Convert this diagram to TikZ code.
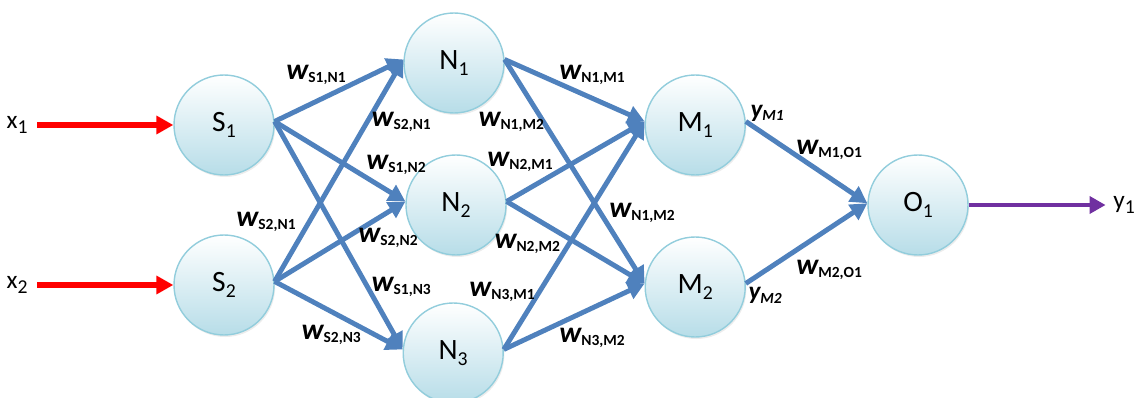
\documentclass[tikz,border=0pt]{standalone}
\usepackage{fontspec}
\setmainfont{Carlito}
\usetikzlibrary{arrows.meta,shadows}

\definecolor{wireblue}{RGB}{79,129,189}
\definecolor{inred}{RGB}{255,0,0}
\definecolor{outpurple}{RGB}{112,48,160}
\definecolor{cellfill}{RGB}{183,221,232}
\definecolor{cellrim}{RGB}{146,205,220}

% small lowered index, and the weight / output labels
\newcommand{\nsub}[1]{\raisebox{-0.45ex}{\fontsize{14}{16}\selectfont #1}}
\newcommand{\wt}[1]{{\fontsize{21}{23}\selectfont\bfseries\itshape w}\raisebox{-0.5ex}{\fontsize{11}{12}\selectfont\bfseries #1}}
\newcommand{\yt}[1]{{\fontsize{18}{20}\selectfont\bfseries\itshape y}\raisebox{-0.5ex}{\fontsize{11}{12}\selectfont\bfseries\itshape #1}}

\begin{document}
\begin{tikzpicture}[cell/.style={circle, draw=cellrim, line width=1pt, top color=white, bottom color=cellfill,
    minimum size=2.5cm, inner sep=0pt, font=\fontsize{21}{24}\selectfont,
    drop shadow={opacity=0.15, shadow xshift=0.03cm, shadow yshift=-0.05cm}},
  weight/.style={wireblue, line width=3.5pt, -{Triangle[length=4.2mm, width=4.4mm]}},
  feed/.style={inred, line width=4.2pt, -{Triangle[length=4.2mm, width=4.4mm]}},
  outp/.style={outpurple, line width=3.5pt, -{Triangle[length=4mm, width=4.2mm]}},
  io/.style={font=\fontsize{18}{20}\selectfont, inner sep=1pt}]
\useasboundingbox (0,0) rectangle (28.525,9.925);

\node[cell] (S1) at (5.6,6.8) {S\nsub{1}};
\node[cell] (S2) at (5.6,2.8) {S\nsub{2}};
\node[cell] (N1) at (11.35,8.35) {N\nsub{1}};
\node[cell] (N2) at (11.4,4.8) {N\nsub{2}};
\node[cell] (N3) at (11.33,1.1) {N\nsub{3}};
\node[cell] (M1) at (17.38,6.8) {M\nsub{1}};
\node[cell] (M2) at (17.38,2.75) {M\nsub{2}};
\node[cell] (O1) at (22.95,4.8) {O\nsub{1}};

\node[io] (x1) at (0.43,6.8) {x\nsub{1}};
\node[io] (x2) at (0.43,2.8) {x\nsub{2}};
\node[io] (y1) at (28.1,4.8) {y\nsub{1}};

\draw[feed, shorten <=0.2cm] (x1) -- (S1);
\draw[feed, shorten <=0.2cm] (x2) -- (S2);
\draw[outp, shorten >=0.15cm] (O1) -- (y1);

\path[weight]
(S1.4) edge (N1.176)
       edge (N2.176)
       edge (N3.176)
(S2.4) edge (N1.176)
       edge (N2.176)
       edge (N3.176)
(N1.4) edge (M1.176)
       edge (M2.176)
(N2.4) edge (M1.176)
       edge (M2.176)
(N3.4) edge (M1.176)
       edge (M2.176)
(M1.4) edge (O1.178)
(M2.4) edge (O1.178);

% weight labels
\node (wS1N1) at (7.9,8.05) {\wt{S1,N1}};
\node (wS2N1a) at (10.03,6.88) {\wt{S2,N1}};
\node (wS1N2) at (9.9,5.8) {\wt{S1,N2}};
\node (wS2N1b) at (6.65,4.38) {\wt{S2,N1}};
\node (wS2N2) at (9.7,3.98) {\wt{S2,N2}};
\node (wS1N3) at (10.03,2.75) {\wt{S1,N3}};
\node (wS2N3) at (8.28,1.55) {\wt{S2,N3}};
\node (wN1M1) at (14.8,8.05) {\wt{N1,M1}};
\node (wN1M2a) at (12.78,6.88) {\wt{N1,M2}};
\node (wN2M1) at (13.0,5.88) {\wt{N2,M1}};
\node (wN1M2b) at (16.05,4.6) {\wt{N1,M2}};
\node (wN2M2) at (13.18,3.83) {\wt{N2,M2}};
\node (wN3M1) at (12.55,2.63) {\wt{N3,M1}};
\node (wN3M2) at (14.8,1.48) {\wt{N3,M2}};
\node (wM1O1) at (20.73,6.18) {\wt{M1,O1}};
\node (wM2O1) at (20.73,3.18) {\wt{M2,O1}};
\node (yM1) at (19.18,7.1) {\yt{M1}};
\node (yM2) at (19.13,2.53) {\yt{M2}};
\end{tikzpicture}
\end{document}
